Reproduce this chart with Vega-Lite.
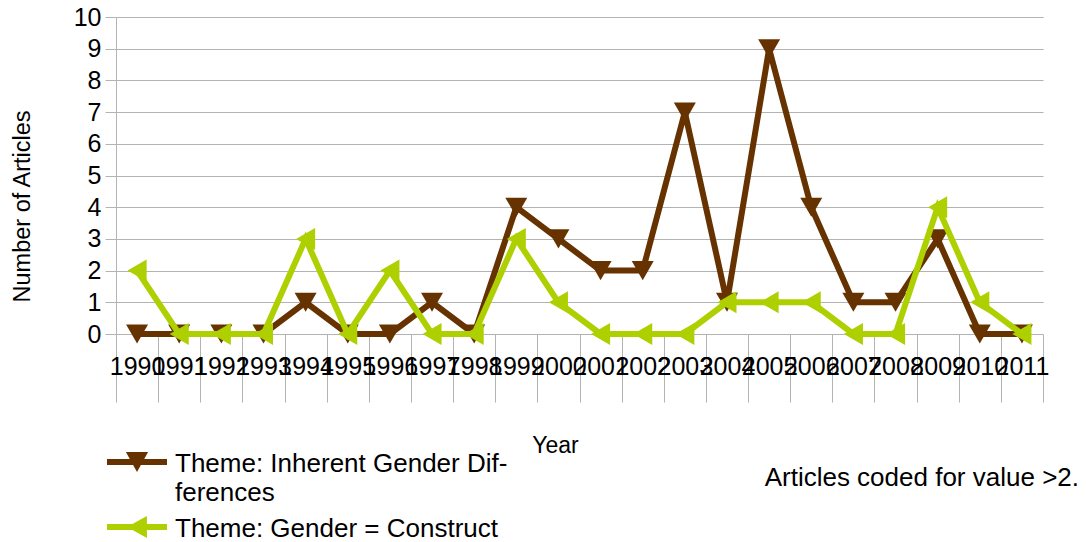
{
  "$schema": "https://vega.github.io/schema/vega-lite/v6.json",
  "width": 927,
  "height": 317,
  "autosize": {"type": "none"},
  "padding": {"left": 116, "top": 17, "right": 43, "bottom": 208},
  "background": "white",
  "config": {
    "font": "Liberation Sans",
    "view": {"stroke": null},
    "axis": {"labelColor": "black", "titleColor": "black", "titleFontWeight": "normal"}
  },
  "title": {
    "text": "Articles coded for value >2.",
    "orient": "bottom",
    "anchor": "end",
    "frame": "group",
    "fontSize": 26,
    "fontWeight": "normal",
    "color": "black",
    "offset": -77,
    "dx": 36
  },
  "data": {
    "values": [
      {"year": "1990", "series": "Theme: Inherent Gender Differences", "count": 0},
      {"year": "1991", "series": "Theme: Inherent Gender Differences", "count": 0},
      {"year": "1992", "series": "Theme: Inherent Gender Differences", "count": 0},
      {"year": "1993", "series": "Theme: Inherent Gender Differences", "count": 0},
      {"year": "1994", "series": "Theme: Inherent Gender Differences", "count": 1},
      {"year": "1995", "series": "Theme: Inherent Gender Differences", "count": 0},
      {"year": "1996", "series": "Theme: Inherent Gender Differences", "count": 0},
      {"year": "1997", "series": "Theme: Inherent Gender Differences", "count": 1},
      {"year": "1998", "series": "Theme: Inherent Gender Differences", "count": 0},
      {"year": "1999", "series": "Theme: Inherent Gender Differences", "count": 4},
      {"year": "2000", "series": "Theme: Inherent Gender Differences", "count": 3},
      {"year": "2001", "series": "Theme: Inherent Gender Differences", "count": 2},
      {"year": "2002", "series": "Theme: Inherent Gender Differences", "count": 2},
      {"year": "2003", "series": "Theme: Inherent Gender Differences", "count": 7},
      {"year": "2004", "series": "Theme: Inherent Gender Differences", "count": 1},
      {"year": "2005", "series": "Theme: Inherent Gender Differences", "count": 9},
      {"year": "2006", "series": "Theme: Inherent Gender Differences", "count": 4},
      {"year": "2007", "series": "Theme: Inherent Gender Differences", "count": 1},
      {"year": "2008", "series": "Theme: Inherent Gender Differences", "count": 1},
      {"year": "2009", "series": "Theme: Inherent Gender Differences", "count": 3},
      {"year": "2010", "series": "Theme: Inherent Gender Differences", "count": 0},
      {"year": "2011", "series": "Theme: Inherent Gender Differences", "count": 0},
      {"year": "1990", "series": "Theme: Gender = Construct", "count": 2},
      {"year": "1991", "series": "Theme: Gender = Construct", "count": 0},
      {"year": "1992", "series": "Theme: Gender = Construct", "count": 0},
      {"year": "1993", "series": "Theme: Gender = Construct", "count": 0},
      {"year": "1994", "series": "Theme: Gender = Construct", "count": 3},
      {"year": "1995", "series": "Theme: Gender = Construct", "count": 0},
      {"year": "1996", "series": "Theme: Gender = Construct", "count": 2},
      {"year": "1997", "series": "Theme: Gender = Construct", "count": 0},
      {"year": "1998", "series": "Theme: Gender = Construct", "count": 0},
      {"year": "1999", "series": "Theme: Gender = Construct", "count": 3},
      {"year": "2000", "series": "Theme: Gender = Construct", "count": 1},
      {"year": "2001", "series": "Theme: Gender = Construct", "count": 0},
      {"year": "2002", "series": "Theme: Gender = Construct", "count": 0},
      {"year": "2003", "series": "Theme: Gender = Construct", "count": 0},
      {"year": "2004", "series": "Theme: Gender = Construct", "count": 1},
      {"year": "2005", "series": "Theme: Gender = Construct", "count": 1},
      {"year": "2006", "series": "Theme: Gender = Construct", "count": 1},
      {"year": "2007", "series": "Theme: Gender = Construct", "count": 0},
      {"year": "2008", "series": "Theme: Gender = Construct", "count": 0},
      {"year": "2009", "series": "Theme: Gender = Construct", "count": 4},
      {"year": "2010", "series": "Theme: Gender = Construct", "count": 1},
      {"year": "2011", "series": "Theme: Gender = Construct", "count": 0}
    ]
  },
  "encoding": {
    "x": {
      "field": "year",
      "type": "ordinal",
      "scale": {"type": "band", "paddingInner": 0, "paddingOuter": 0},
      "axis": {
        "title": "Year",
        "titleFontSize": 23,
        "titleX": 439,
        "titleY": 111,
        "titleAlign": "center",
        "titleBaseline": "middle",
        "tickBand": "extent",
        "tickSize": 68,
        "tickColor": "#b3b3b3",
        "tickWidth": 1,
        "domain": false,
        "grid": false,
        "labelAngle": 0,
        "labelFontSize": 25,
        "labelPadding": -48,
        "labelOverlap": false,
        "labelFlush": false,
        "labelBound": false,
        "labelAlign": "center",
        "labelBaseline": "top"
      }
    },
    "y": {
      "field": "count",
      "type": "quantitative",
      "scale": {"domain": [0, 10], "nice": false},
      "axis": {
        "title": "Number of Articles",
        "titleFontSize": 23.5,
        "titleX": -94,
        "titleY": 189,
        "titleAngle": -90,
        "titleAlign": "center",
        "titleBaseline": "middle",
        "values": [0, 1, 2, 3, 4, 5, 6, 7, 8, 9, 10],
        "grid": true,
        "gridColor": "#b3b3b3",
        "gridWidth": 1,
        "tickSize": 11,
        "tickColor": "#b3b3b3",
        "domain": true,
        "domainColor": "#b3b3b3",
        "labelFontSize": 25,
        "labelPadding": 4
      }
    },
    "color": {
      "field": "series",
      "type": "nominal",
      "scale": {
        "domain": ["Theme: Inherent Gender Differences", "Theme: Gender = Construct"],
        "range": ["#663300", "#aecf00"]
      },
      "legend": {
        "title": null,
        "orient": "none",
        "legendX": -9,
        "legendY": 415,
        "direction": "vertical",
        "padding": 0,
        "symbolSize": 3600,
        "rowPadding": 0,
        "labelFontSize": 26,
        "labelColor": "black",
        "labelOffset": 8,
        "labelLimit": 0,
        "labelExpr": "datum.label === 'Theme: Inherent Gender Differences' ? ['Theme: Inherent Gender Dif-', 'ferences'] : datum.label",
        "encode": {
          "symbols": {
            "update": {
              "shape": {"signal": "datum.value === 'Theme: Inherent Gender Differences' ? 'M-1,-0.1H1V0.1H-1Z M-0.37,-0.33L0.37,-0.33L0,0.33Z' : 'M-1,-0.1H1V0.1H-1Z M0.33,-0.37L0.33,0.37L-0.33,0Z'"},
              "fill": {"signal": "scale('color', datum.value)"},
              "y": {"signal": "datum.value === 'Theme: Gender = Construct' ? 21 : 30"},
              "strokeWidth": {"value": 0},
              "opacity": {"value": 1},
              "fillOpacity": {"value": 1}
            }
          },
          "labels": {
            "update": {
              "baseline": {"value": "top"},
              "dy": {"signal": "datum.value === 'Theme: Gender = Construct' ? -20.5 : -11.5"},
              "lineHeight": {"value": 29}
            }
          }
        }
      }
    }
  },
  "layer": [
    {
      "transform": [{"filter": "datum.series === 'Theme: Inherent Gender Differences'"}],
      "mark": {"type": "line", "strokeWidth": 6}
    },
    {
      "transform": [{"filter": "datum.series === 'Theme: Inherent Gender Differences'"}],
      "mark": {"type": "point", "shape": "triangle-down", "filled": true, "size": 484, "opacity": 1}
    },
    {
      "transform": [{"filter": "datum.series === 'Theme: Gender = Construct'"}],
      "mark": {"type": "line", "strokeWidth": 6}
    },
    {
      "transform": [{"filter": "datum.series === 'Theme: Gender = Construct'"}],
      "mark": {"type": "point", "shape": "triangle-left", "filled": true, "size": 484, "opacity": 1}
    }
  ]
}
